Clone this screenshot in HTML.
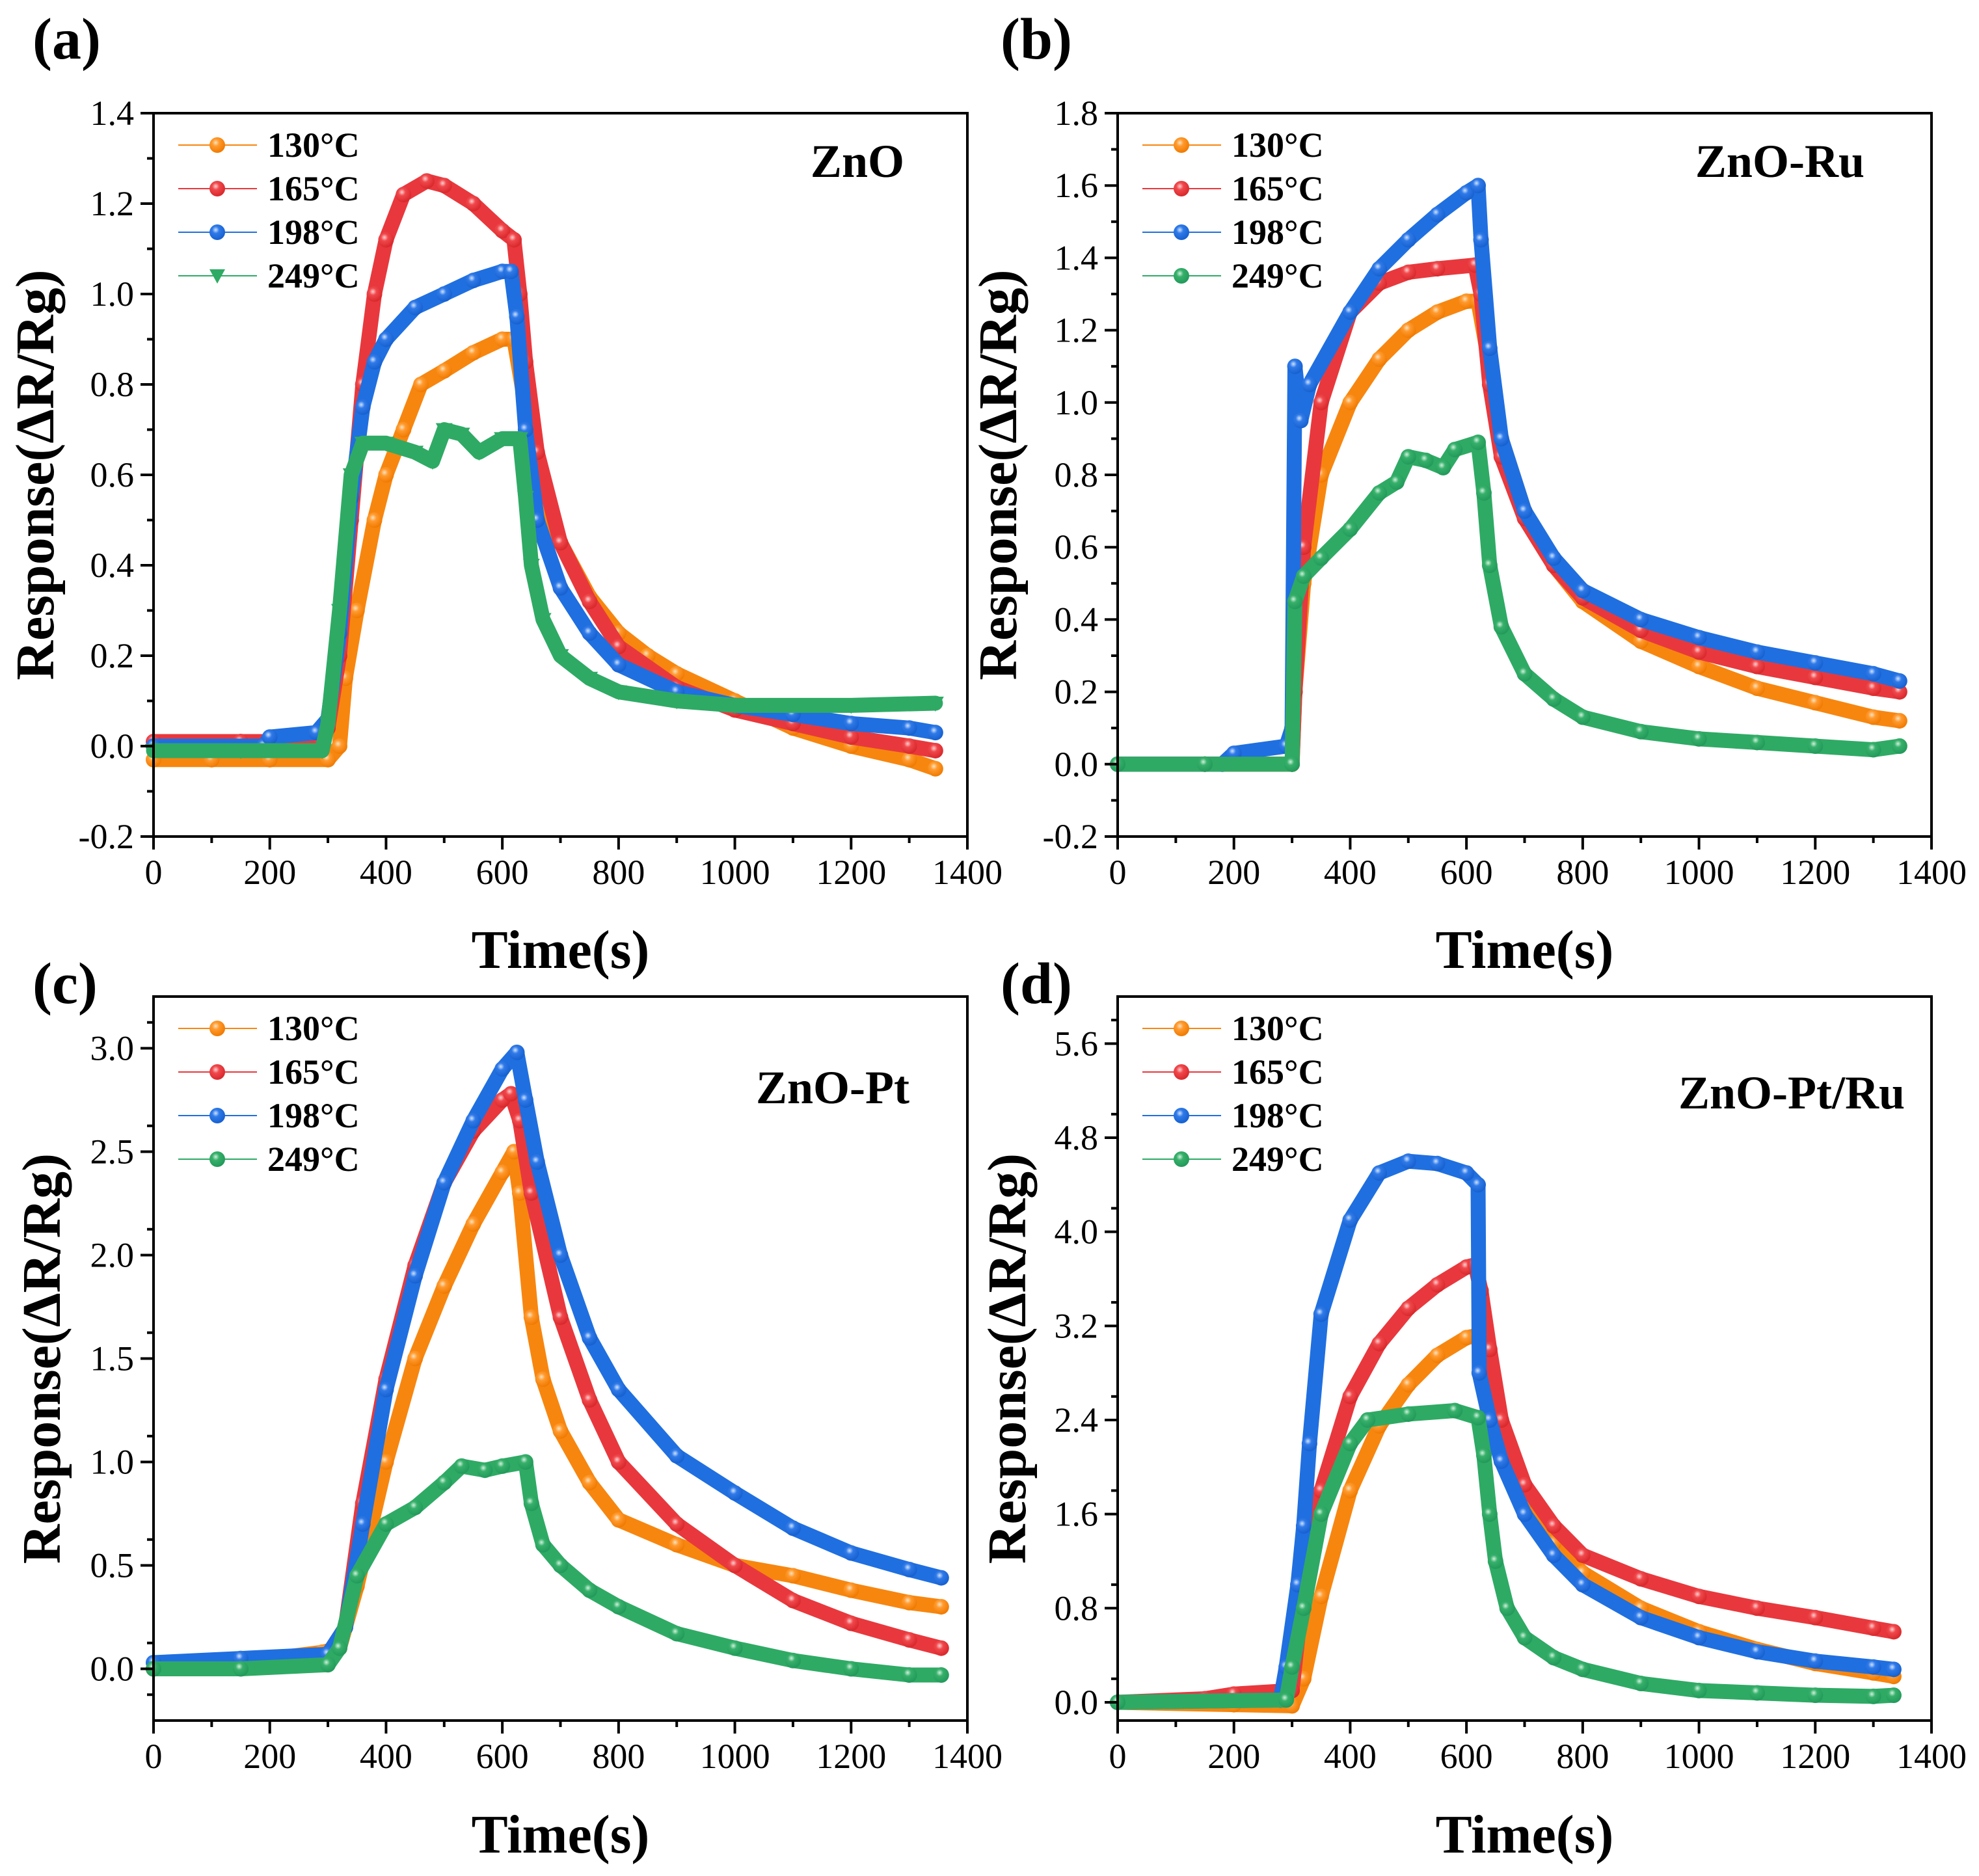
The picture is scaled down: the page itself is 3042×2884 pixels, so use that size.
<!DOCTYPE html>
<html><head><meta charset="utf-8">
<style>
html,body{margin:0;padding:0;background:#fff;}
svg{display:block;}
text{font-family:"Liberation Serif","Times New Roman","DejaVu Serif",serif;}
</style></head>
<body>
<svg id="fig" width="3042" height="2884" viewBox="0 0 3042 2884" xmlns="http://www.w3.org/2000/svg" font-family="Liberation Serif, DejaVu Serif, serif">
<defs>
<radialGradient id="g-orange" cx="0.4" cy="0.35" r="0.65"><stop offset="0" stop-color="#ffe2c0"/><stop offset="0.35" stop-color="#ff9a2e"/><stop offset="1" stop-color="#f07a00"/></radialGradient>
<radialGradient id="g-red" cx="0.4" cy="0.35" r="0.65"><stop offset="0" stop-color="#ffd0d0"/><stop offset="0.35" stop-color="#f0484c"/><stop offset="1" stop-color="#d8282c"/></radialGradient>
<radialGradient id="g-blue" cx="0.4" cy="0.35" r="0.65"><stop offset="0" stop-color="#d0e2ff"/><stop offset="0.35" stop-color="#2f7ae8"/><stop offset="1" stop-color="#1660d0"/></radialGradient>
<radialGradient id="g-green" cx="0.4" cy="0.35" r="0.65"><stop offset="0" stop-color="#d0f0dc"/><stop offset="0.35" stop-color="#36b06a"/><stop offset="1" stop-color="#22995a"/></radialGradient>
</defs>
</svg>
<script>
// ---------- data (time s, response) ----------
const legendLabels = ["130\u00b0C","165\u00b0C","198\u00b0C","249\u00b0C"];
const xTickLabels = ["0","200","400","600","800","1000","1200","1400"];

// Panel (a) ZnO
const aT130 = [0,100,200,300,320,330,350,380,400,430,460,500,550,600,620,640,660,700,750,800,850,900,1000,1100,1200,1300,1345];
const aV130 = [-0.03,-0.03,-0.03,-0.03,0.0,0.15,0.3,0.5,0.6,0.7,0.8,0.83,0.87,0.9,0.9,0.75,0.6,0.45,0.33,0.25,0.2,0.16,0.1,0.04,0.0,-0.03,-0.05];
const aT165 = [0,150,290,300,320,340,360,380,400,430,470,500,550,600,620,630,640,660,700,750,800,900,1000,1100,1200,1300,1345];
const aV165 = [0.01,0.01,0.01,0.04,0.2,0.5,0.8,1.0,1.12,1.22,1.25,1.24,1.2,1.14,1.12,1.0,0.85,0.65,0.45,0.32,0.22,0.13,0.08,0.05,0.02,0.0,-0.01];
const aT198 = [0,190,200,280,300,320,340,360,380,400,450,500,550,600,615,625,640,660,700,750,800,900,1000,1100,1200,1300,1345];
const aV198 = [0.0,0.0,0.02,0.03,0.06,0.25,0.55,0.75,0.85,0.9,0.97,1.0,1.03,1.05,1.05,0.95,0.7,0.5,0.35,0.25,0.18,0.12,0.09,0.07,0.05,0.04,0.03];
const aT249 = [0,150,290,300,320,340,360,400,450,480,500,530,560,600,630,640,650,670,700,750,800,900,1000,1200,1345];
const aV249 = [-0.01,-0.01,-0.01,0.05,0.3,0.6,0.67,0.67,0.65,0.63,0.7,0.69,0.65,0.68,0.68,0.55,0.4,0.28,0.2,0.15,0.12,0.1,0.09,0.09,0.095];

// Panel (b) ZnO-Ru
const bT130 = [0,150,300,305,320,350,400,450,500,550,600,620,640,660,700,750,800,900,1000,1100,1200,1300,1345];
const bV130 = [0.0,0.0,0.0,0.2,0.5,0.8,1.0,1.12,1.2,1.25,1.28,1.28,1.1,0.9,0.7,0.55,0.45,0.34,0.27,0.21,0.17,0.13,0.12];
const bT165 = [0,150,300,305,320,350,400,450,500,550,615,625,640,660,700,750,800,900,1000,1100,1200,1300,1345];
const bV165 = [0.0,0.0,0.0,0.2,0.6,1.0,1.25,1.33,1.36,1.37,1.38,1.3,1.05,0.85,0.68,0.55,0.46,0.37,0.31,0.27,0.24,0.21,0.2];
const bT198 = [0,180,200,290,300,305,315,330,400,450,500,550,600,620,625,640,660,700,750,800,900,1000,1100,1200,1300,1345];
const bV198 = [0.0,0.0,0.03,0.05,0.1,1.1,0.95,1.05,1.25,1.37,1.45,1.52,1.58,1.6,1.45,1.15,0.9,0.7,0.57,0.48,0.4,0.35,0.31,0.28,0.25,0.23];
const bT249 = [0,150,300,305,320,350,400,450,480,500,530,560,580,620,630,640,660,700,750,800,900,1000,1100,1200,1300,1345];
const bV249 = [0.0,0.0,0.0,0.45,0.52,0.57,0.65,0.75,0.78,0.85,0.84,0.82,0.87,0.89,0.75,0.55,0.38,0.25,0.18,0.13,0.09,0.07,0.06,0.05,0.04,0.05];

// Panel (c) ZnO-Pt
const cT130 = [0,150,290,320,350,400,450,500,550,600,620,630,650,670,700,750,800,900,1000,1100,1200,1300,1355];
const cV130 = [0.0,0.03,0.08,0.1,0.4,1.0,1.5,1.85,2.15,2.4,2.5,2.3,1.7,1.4,1.15,0.9,0.72,0.6,0.5,0.45,0.38,0.32,0.3];
const cT165 = [0,150,300,330,360,400,450,500,550,600,615,630,650,700,750,800,900,1000,1100,1200,1300,1355];
const cV165 = [0.0,0.03,0.07,0.2,0.8,1.4,1.95,2.35,2.6,2.75,2.78,2.65,2.3,1.7,1.3,1.0,0.7,0.5,0.33,0.22,0.14,0.1];
const cT198 = [0,150,300,330,360,400,450,500,550,600,625,640,660,700,750,800,900,1000,1100,1200,1300,1355];
const cV198 = [0.03,0.05,0.07,0.2,0.7,1.35,1.9,2.35,2.65,2.9,2.98,2.75,2.45,2.0,1.6,1.35,1.03,0.85,0.68,0.56,0.48,0.44];
const cT249 = [0,150,300,320,350,400,450,500,530,570,600,640,650,670,700,750,800,900,1000,1100,1200,1300,1355];
const cV249 = [0.0,0.0,0.02,0.1,0.45,0.7,0.78,0.9,0.98,0.96,0.98,1.0,0.8,0.6,0.5,0.38,0.3,0.17,0.1,0.04,0.0,-0.03,-0.03];

// Panel (d) ZnO-Pt/Ru
const dT130 = [0,200,300,320,350,400,450,500,550,600,620,640,660,700,750,800,900,1000,1100,1200,1300,1335];
const dV130 = [0.0,-0.02,-0.03,0.2,0.9,1.8,2.35,2.7,2.95,3.1,3.12,2.6,2.2,1.7,1.35,1.1,0.8,0.6,0.45,0.33,0.25,0.22];
const dT165 = [0,150,200,300,320,350,400,450,500,550,600,615,625,640,660,700,750,800,900,1000,1100,1200,1300,1335];
const dV165 = [0.0,0.03,0.07,0.1,1.0,1.8,2.6,3.05,3.35,3.55,3.7,3.72,3.5,3.0,2.4,1.85,1.5,1.25,1.05,0.9,0.8,0.72,0.63,0.6];
const dT198 = [0,280,290,310,320,330,350,400,450,500,550,600,620,622,640,660,700,750,800,900,1000,1100,1200,1300,1335];
const dV198 = [0.0,0.02,0.3,1.0,1.5,2.2,3.3,4.1,4.5,4.6,4.58,4.5,4.4,2.8,2.4,2.05,1.6,1.25,1.0,0.72,0.55,0.43,0.35,0.3,0.28];
const dT249 = [0,290,300,320,350,400,430,500,580,620,630,640,650,670,700,750,800,900,1000,1100,1200,1300,1335];
const dV249 = [0.0,0.02,0.3,0.8,1.6,2.2,2.4,2.45,2.48,2.42,2.1,1.6,1.2,0.8,0.55,0.38,0.28,0.16,0.1,0.08,0.06,0.05,0.06];

const aYTicks = ["-0.2","0.0","0.2","0.4","0.6","0.8","1.0","1.2","1.4"];
const bYTicks = ["-0.2","0.0","0.2","0.4","0.6","0.8","1.0","1.2","1.4","1.6","1.8"];
const cYTicks = ["0.0","0.5","1.0","1.5","2.0","2.5","3.0"];
const dYTicks = ["0.0","0.8","1.6","2.4","3.2","4.0","4.8","5.6"];

// ---------- rendering ----------
const NS = "http://www.w3.org/2000/svg";
const svg = document.getElementById("fig");
const COLORS = ["#f7860f","#e8383d","#1f6fe0","#2eaa64"];
const GRADS = ["url(#g-orange)","url(#g-red)","url(#g-blue)","url(#g-green)"];
const SER = ["130","165","198","249"];
const FONT = "Liberation Serif, Times New Roman, DejaVu Serif, serif";

function mk(tag, attrs, parent){
  const e = document.createElementNS(NS, tag);
  for (const k in attrs) e.setAttribute(k, attrs[k]);
  (parent||svg).appendChild(e);
  return e;
}
function txt(str, attrs, parent){ attrs["font-family"] = FONT; const e = mk("text", attrs, parent); e.textContent = str; return e; }

function panel(cfg){
  const {id,L,R,T,B,ymin,ymax,yTicks,yStep,series,name,nameX,nameY,label,labelX,labelY,yTitleX,xTitleY,triLast} = cfg;
  const g = mk("g", {});
  
  
  const xs = v => L + (v-0)/1400*(R-L);
  const ys = v => B - (v-ymin)/(ymax-ymin)*(B-T);

  series.forEach((s,i)=>{
    const sg = mk("g", {}, g);
    
    
    const pts = s.t.map((t,j)=> xs(t).toFixed(1)+","+ys(s.v[j]).toFixed(1)).join(" ");
    const band = mk("polyline", {points:pts, fill:"none", stroke:COLORS[i], "stroke-width":23, "stroke-linejoin":"round","stroke-linecap":"round"}, sg);
    
    
    s.t.forEach((t,j)=>{
      const cx = xs(t), cy = ys(s.v[j]);
      let m;
      if (triLast && i===3){
        m = mk("polygon", {points:`${cx-13},${cy-10} ${cx+13},${cy-10} ${cx},${cy+13}`, fill:COLORS[i]}, sg);
      } else {
        m = mk("circle", {cx:cx, cy:cy, r:12, fill:GRADS[i]}, sg);
      }
      
      
    });
  });

  const fr = mk("rect", {x:L, y:T, width:R-L, height:B-T, fill:"none", stroke:"#000", "stroke-width":4}, g);
  
  

  const xg = mk("g", {}, g);
  
  
  for (let v=0; v<=1400; v+=100){
    const major = v%200===0;
    mk("line", {x1:xs(v), x2:xs(v), y1:B, y2:B+(major?20:10), stroke:"#000","stroke-width":4}, xg);
  }
  xTickLabels.forEach((lab,k)=>{
    const t = txt(lab, {x:xs(k*200), y:B+73, "font-size":54, "text-anchor":"middle", fill:"#000"}, xg);
    
    
  });
  const xt = txt("Time(s)", {x:(L+R)/2, y:xTitleY, "font-size":84, "font-weight":"bold", "text-anchor":"middle"}, g);
  
  

  const yg = mk("g", {}, g);
  
  
  yTicks.forEach((lab,k)=>{
    const v = parseFloat(lab);
    mk("line", {x1:L-20, x2:L, y1:ys(v), y2:ys(v), stroke:"#000","stroke-width":4}, yg);
    const vm = v + yStep/2;
    if (vm < ymax) mk("line", {x1:L-10, x2:L, y1:ys(vm), y2:ys(vm), stroke:"#000","stroke-width":4}, yg);
    if (k===0 && v - yStep/2 > ymin) mk("line", {x1:L-10, x2:L, y1:ys(v-yStep/2), y2:ys(v-yStep/2), stroke:"#000","stroke-width":4}, yg);
    const t = txt(lab, {x:L-30, y:ys(v)+18, "font-size":54, "text-anchor":"end"}, yg);
    
    
  });
  const cy = (T+B)/2;
  const yt = txt("Response(\u0394R/Rg)", {x:yTitleX, y:cy, "font-size":84, "font-weight":"bold", "text-anchor":"middle", transform:`rotate(-90 ${yTitleX} ${cy})`}, g);
  
  

  const lg = mk("g", {}, g);
  
  
  legendLabels.forEach((lab,i)=>{
    const ly = T + 49 + i*67;
    const eg = mk("g", {}, lg);
    
    
    mk("line", {x1:L+38, x2:L+159, y1:ly, y2:ly, stroke:COLORS[i], "stroke-width":2}, eg);
    if (triLast && i===3) mk("polygon", {points:`${L+86},${ly-10} ${L+110},${ly-10} ${L+98},${ly+12}`, fill:COLORS[i]}, eg);
    else mk("circle", {cx:L+98, cy:ly, r:12, fill:GRADS[i]}, eg);
    txt(lab, {x:L+175, y:ly+18, "font-size":54, "font-weight":"bold"}, eg);
  });

  const nm = txt(name, {x:nameX, y:nameY, "font-size":72, "font-weight":"bold", "text-anchor":"end"}, g);
  
  
  const pl = txt(label, {x:labelX, y:labelY, "font-size":90, "font-weight":"bold"}, g);
  
  
}

panel({id:"a",L:236,R:1487,T:174,B:1286,ymin:-0.2,ymax:1.4,yTicks:aYTicks,yStep:0.2,
  series:[{t:aT130,v:aV130},{t:aT165,v:aV165},{t:aT198,v:aV198},{t:aT249,v:aV249}],
  name:"ZnO",nameX:1390,nameY:272,label:"(a)",labelX:50,labelY:90,yTitleX:82,xTitleY:1488,triLast:true});
panel({id:"b",L:1718,R:2969,T:174,B:1286,ymin:-0.2,ymax:1.8,yTicks:bYTicks,yStep:0.2,
  series:[{t:bT130,v:bV130},{t:bT165,v:bV165},{t:bT198,v:bV198},{t:bT249,v:bV249}],
  name:"ZnO-Ru",nameX:2866,nameY:272,label:"(b)",labelX:1538,labelY:90,yTitleX:1562,xTitleY:1488});
panel({id:"c",L:236,R:1487,T:1532,B:2645,ymin:-0.25,ymax:3.25,yTicks:cYTicks,yStep:0.25,
  series:[{t:cT130,v:cV130},{t:cT165,v:cV165},{t:cT198,v:cV198},{t:cT249,v:cV249}],
  name:"ZnO-Pt",nameX:1398,nameY:1696,label:"(c)",labelX:50,labelY:1542,yTitleX:92,xTitleY:2848});
panel({id:"d",L:1718,R:2969,T:1532,B:2645,ymin:-0.155,ymax:6.0,yTicks:dYTicks,yStep:0.4,
  series:[{t:dT130,v:dV130},{t:dT165,v:dV165},{t:dT198,v:dV198},{t:dT249,v:dV249}],
  name:"ZnO-Pt/Ru",nameX:2928,nameY:1704,label:"(d)",labelX:1538,labelY:1542,yTitleX:1576,xTitleY:2848});
</script>
</body></html>
